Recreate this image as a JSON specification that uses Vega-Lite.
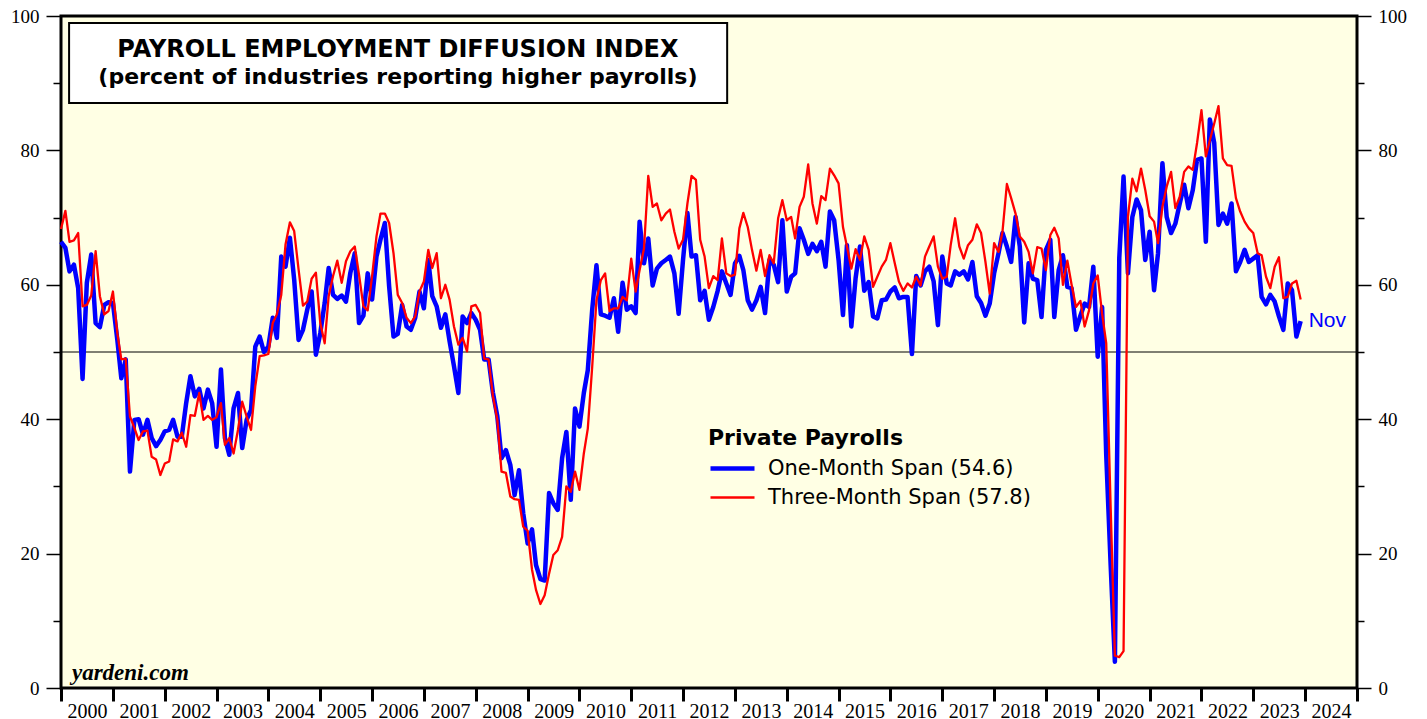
{
"$schema":"https://vega.github.io/schema/vega-lite/v6.json",
"autosize":{"type":"none"},
"width":1296,"height":672,
"padding":{"left":61,"top":16,"right":70,"bottom":31},
"background":"white",
"config":{"view":{"fill":"#FFFFE4","stroke":"black","strokeWidth":3},"axis":{"domain":false,"grid":false}},
"datasets":{
"payrolls":[
{"date":"2000-01-01","one":66.4,"three":68.3},{"date":"2000-02-01","one":65.5,"three":71},{"date":"2000-03-01","one":62,"three":66.4},{"date":"2000-04-01","one":63,"three":66.6},{"date":"2000-05-01","one":59.5,"three":67.7},{"date":"2000-06-01","one":46,"three":56.8},{"date":"2000-07-01","one":60.3,"three":57},{"date":"2000-08-01","one":64.5,"three":58.4},{"date":"2000-09-01","one":54.3,"three":65},{"date":"2000-10-01","one":53.7,"three":58.3},{"date":"2000-11-01","one":57,"three":55.6},{"date":"2000-12-01","one":57.4,"three":56.1},
{"date":"2001-01-01","one":57.3,"three":59},{"date":"2001-02-01","one":51.8,"three":52.8},{"date":"2001-03-01","one":46.1,"three":48.9},{"date":"2001-04-01","one":48.9,"three":49},{"date":"2001-05-01","one":32.2,"three":40.4},{"date":"2001-06-01","one":39.9,"three":38.7},{"date":"2001-07-01","one":40,"three":36.9},{"date":"2001-08-01","one":37.7,"three":38.2},{"date":"2001-09-01","one":39.9,"three":38.3},{"date":"2001-10-01","one":37.2,"three":34.4},{"date":"2001-11-01","one":36,"three":34},{"date":"2001-12-01","one":36.9,"three":31.7},
{"date":"2002-01-01","one":38.2,"three":33.4},{"date":"2002-02-01","one":38.4,"three":33.7},{"date":"2002-03-01","one":39.9,"three":37},{"date":"2002-04-01","one":37.4,"three":36.7},{"date":"2002-05-01","one":37.4,"three":38},{"date":"2002-06-01","one":42.4,"three":35.9},{"date":"2002-07-01","one":46.4,"three":40.6},{"date":"2002-08-01","one":43.4,"three":40.5},{"date":"2002-09-01","one":44.5,"three":43.9},{"date":"2002-10-01","one":41.6,"three":39.9},{"date":"2002-11-01","one":44.4,"three":40.5},{"date":"2002-12-01","one":42.4,"three":39.9},
{"date":"2003-01-01","one":35.9,"three":40.3},{"date":"2003-02-01","one":47.4,"three":42.4},{"date":"2003-03-01","one":37.2,"three":36.2},{"date":"2003-04-01","one":34.7,"three":37.2},{"date":"2003-05-01","one":41.6,"three":34.9},{"date":"2003-06-01","one":43.9,"three":38.4},{"date":"2003-07-01","one":35.7,"three":42.6},{"date":"2003-08-01","one":39.9,"three":40.4},{"date":"2003-09-01","one":41.4,"three":38.4},{"date":"2003-10-01","one":50.8,"three":44.9},{"date":"2003-11-01","one":52.3,"three":49.4},{"date":"2003-12-01","one":50,"three":49.5},
{"date":"2004-01-01","one":50.8,"three":49.7},{"date":"2004-02-01","one":55.1,"three":54.3},{"date":"2004-03-01","one":52.1,"three":55.6},{"date":"2004-04-01","one":64.2,"three":58.5},{"date":"2004-05-01","one":62.7,"three":66},{"date":"2004-06-01","one":67,"three":69.3},{"date":"2004-07-01","one":60.8,"three":68},{"date":"2004-08-01","one":51.8,"three":62.3},{"date":"2004-09-01","one":53.3,"three":56.9},{"date":"2004-10-01","one":56.3,"three":57.5},{"date":"2004-11-01","one":59,"three":60.9},{"date":"2004-12-01","one":49.6,"three":61.8},
{"date":"2005-01-01","one":52.8,"three":54.3},{"date":"2005-02-01","one":57.3,"three":51.3},{"date":"2005-03-01","one":62.5,"three":58.3},{"date":"2005-04-01","one":58.5,"three":61.3},{"date":"2005-05-01","one":57.9,"three":63.6},{"date":"2005-06-01","one":58.4,"three":60.3},{"date":"2005-07-01","one":57.5,"three":63.5},{"date":"2005-08-01","one":61.8,"three":65},{"date":"2005-09-01","one":64.7,"three":65.7},{"date":"2005-10-01","one":54.3,"three":61.5},{"date":"2005-11-01","one":55.4,"three":56.8},{"date":"2005-12-01","one":61.7,"three":56.2},
{"date":"2006-01-01","one":57.8,"three":61.3},{"date":"2006-02-01","one":64.2,"three":67.2},{"date":"2006-03-01","one":66.7,"three":70.6},{"date":"2006-04-01","one":69.2,"three":70.6},{"date":"2006-05-01","one":59.8,"three":69.2},{"date":"2006-06-01","one":52.3,"three":64.7},{"date":"2006-07-01","one":52.7,"three":58.5},{"date":"2006-08-01","one":57,"three":57.3},{"date":"2006-09-01","one":53.8,"three":55.1},{"date":"2006-10-01","one":53.3,"three":54.3},{"date":"2006-11-01","one":55.1,"three":55.3},{"date":"2006-12-01","one":59,"three":59},
{"date":"2007-01-01","one":56.5,"three":60.5},{"date":"2007-02-01","one":63.7,"three":65.2},{"date":"2007-03-01","one":58.3,"three":62.5},{"date":"2007-04-01","one":56.8,"three":64.7},{"date":"2007-05-01","one":53.6,"three":58},{"date":"2007-06-01","one":55.6,"three":60},{"date":"2007-07-01","one":51.6,"three":57.8},{"date":"2007-08-01","one":47.9,"three":53.8},{"date":"2007-09-01","one":43.9,"three":51.1},{"date":"2007-10-01","one":55.3,"three":52.1},{"date":"2007-11-01","one":54.3,"three":50.1},{"date":"2007-12-01","one":55.8,"three":56.8},
{"date":"2008-01-01","one":54.8,"three":57},{"date":"2008-02-01","one":53.3,"three":55.8},{"date":"2008-03-01","one":48.9,"three":49},{"date":"2008-04-01","one":48.9,"three":48.9},{"date":"2008-05-01","one":44,"three":43.5},{"date":"2008-06-01","one":40.5,"three":40},{"date":"2008-07-01","one":34.2,"three":32.2},{"date":"2008-08-01","one":35.4,"three":32},{"date":"2008-09-01","one":33.2,"three":28.5},{"date":"2008-10-01","one":28.7,"three":28.1},{"date":"2008-11-01","one":32.4,"three":28},{"date":"2008-12-01","one":26,"three":24},
{"date":"2009-01-01","one":21.5,"three":23.4},{"date":"2009-02-01","one":23.6,"three":17.6},{"date":"2009-03-01","one":18.3,"three":14.6},{"date":"2009-04-01","one":16.2,"three":12.5},{"date":"2009-05-01","one":16,"three":13.8},{"date":"2009-06-01","one":29,"three":17},{"date":"2009-07-01","one":27.5,"three":19.8},{"date":"2009-08-01","one":26.5,"three":20.5},{"date":"2009-09-01","one":34.2,"three":22.5},{"date":"2009-10-01","one":38.1,"three":30},{"date":"2009-11-01","one":28,"three":29.2},{"date":"2009-12-01","one":41.6,"three":32.2},
{"date":"2010-01-01","one":38.9,"three":29.5},{"date":"2010-02-01","one":43.9,"three":34.9},{"date":"2010-03-01","one":47.3,"three":38.6},{"date":"2010-04-01","one":56.3,"three":47.8},{"date":"2010-05-01","one":62.9,"three":57.7},{"date":"2010-06-01","one":55.6,"three":60.7},{"date":"2010-07-01","one":55.4,"three":61.7},{"date":"2010-08-01","one":55.1,"three":56.1},{"date":"2010-09-01","one":58,"three":56.5},{"date":"2010-10-01","one":53,"three":56.5},{"date":"2010-11-01","one":60.3,"three":58.2},{"date":"2010-12-01","one":56.3,"three":57.7},
{"date":"2011-01-01","one":56.8,"three":63.9},{"date":"2011-02-01","one":55.8,"three":59},{"date":"2011-03-01","one":69.4,"three":62.2},{"date":"2011-04-01","one":63.2,"three":65.4},{"date":"2011-05-01","one":66.9,"three":76.2},{"date":"2011-06-01","one":59.9,"three":71.6},{"date":"2011-07-01","one":62.4,"three":72.1},{"date":"2011-08-01","one":63.2,"three":69.6},{"date":"2011-09-01","one":63.7,"three":70.6},{"date":"2011-10-01","one":64.2,"three":71.2},{"date":"2011-11-01","one":61.7,"three":67.9},{"date":"2011-12-01","one":55.7,"three":65.4},
{"date":"2012-01-01","one":63.7,"three":66.7},{"date":"2012-02-01","one":70.7,"three":72.1},{"date":"2012-03-01","one":64.2,"three":76.2},{"date":"2012-04-01","one":64.4,"three":75.6},{"date":"2012-05-01","one":57.7,"three":66.7},{"date":"2012-06-01","one":59.1,"three":64.2},{"date":"2012-07-01","one":54.8,"three":59.5},{"date":"2012-08-01","one":56.7,"three":61.3},{"date":"2012-09-01","one":59.1,"three":60.7},{"date":"2012-10-01","one":62,"three":66.9},{"date":"2012-11-01","one":60.2,"three":61.7},{"date":"2012-12-01","one":58.5,"three":61.3},
{"date":"2013-01-01","one":63.2,"three":61.5},{"date":"2013-02-01","one":64.3,"three":68.4},{"date":"2013-03-01","one":62.2,"three":70.7},{"date":"2013-04-01","one":57.7,"three":68.6},{"date":"2013-05-01","one":56.3,"three":65.2},{"date":"2013-06-01","one":57.7,"three":62.1},{"date":"2013-07-01","one":59.7,"three":65.2},{"date":"2013-08-01","one":55.8,"three":61.3},{"date":"2013-09-01","one":63.7,"three":64.4},{"date":"2013-10-01","one":63,"three":63.2},{"date":"2013-11-01","one":60.4,"three":69.9},{"date":"2013-12-01","one":69.6,"three":72.6},
{"date":"2014-01-01","one":59,"three":69.6},{"date":"2014-02-01","one":61.2,"three":70.1},{"date":"2014-03-01","one":61.7,"three":66.9},{"date":"2014-04-01","one":68.4,"three":71.6},{"date":"2014-05-01","one":66.7,"three":73.1},{"date":"2014-06-01","one":64.6,"three":77.9},{"date":"2014-07-01","one":66.1,"three":72.1},{"date":"2014-08-01","one":65,"three":69.1},{"date":"2014-09-01","one":66.4,"three":73.2},{"date":"2014-10-01","one":62.7,"three":72.6},{"date":"2014-11-01","one":70.9,"three":77.3},{"date":"2014-12-01","one":69.6,"three":76.3},
{"date":"2015-01-01","one":63.7,"three":75.1},{"date":"2015-02-01","one":55.5,"three":68.6},{"date":"2015-03-01","one":65.9,"three":65.7},{"date":"2015-04-01","one":53.8,"three":62.4},{"date":"2015-05-01","one":61,"three":65.3},{"date":"2015-06-01","one":65.7,"three":63.7},{"date":"2015-07-01","one":59.1,"three":67.2},{"date":"2015-08-01","one":60.4,"three":65.2},{"date":"2015-09-01","one":55.3,"three":59.7},{"date":"2015-10-01","one":55,"three":61.2},{"date":"2015-11-01","one":57.7,"three":62.7},{"date":"2015-12-01","one":57.8,"three":63.7},
{"date":"2016-01-01","one":59,"three":66.2},{"date":"2016-02-01","one":59.6,"three":63.2},{"date":"2016-03-01","one":58,"three":60.5},{"date":"2016-04-01","one":58.2,"three":59.1},{"date":"2016-05-01","one":58.2,"three":60.2},{"date":"2016-06-01","one":49.7,"three":59.6},{"date":"2016-07-01","one":61.3,"three":61.2},{"date":"2016-08-01","one":59.9,"three":59.9},{"date":"2016-09-01","one":62,"three":64.2},{"date":"2016-10-01","one":62.7,"three":65.7},{"date":"2016-11-01","one":60.5,"three":67.2},{"date":"2016-12-01","one":54,"three":62.7},
{"date":"2017-01-01","one":64.2,"three":60.9},{"date":"2017-02-01","one":60.2,"three":61.2},{"date":"2017-03-01","one":59.9,"three":65.9},{"date":"2017-04-01","one":62,"three":69.9},{"date":"2017-05-01","one":61.5,"three":65.7},{"date":"2017-06-01","one":62,"three":63.9},{"date":"2017-07-01","one":60.8,"three":65.9},{"date":"2017-08-01","one":63.4,"three":66.7},{"date":"2017-09-01","one":58.3,"three":69},{"date":"2017-10-01","one":57.3,"three":67.7},{"date":"2017-11-01","one":55.4,"three":63.4},{"date":"2017-12-01","one":57.2,"three":58.7},
{"date":"2018-01-01","one":61.7,"three":66.2},{"date":"2018-02-01","one":64.7,"three":64.9},{"date":"2018-03-01","one":67.7,"three":67.9},{"date":"2018-04-01","one":65.7,"three":75},{"date":"2018-05-01","one":63.4,"three":72.9},{"date":"2018-06-01","one":70.1,"three":70.6},{"date":"2018-07-01","one":65.7,"three":67.2},{"date":"2018-08-01","one":54.4,"three":66.4},{"date":"2018-09-01","one":63.2,"three":64.9},{"date":"2018-10-01","one":60.9,"three":61.7},{"date":"2018-11-01","one":60.7,"three":65.6},{"date":"2018-12-01","one":55.2,"three":65.4},
{"date":"2019-01-01","one":65.2,"three":62.2},{"date":"2019-02-01","one":66.7,"three":67.4},{"date":"2019-03-01","one":55.2,"three":68.5},{"date":"2019-04-01","one":62.2,"three":66.9},{"date":"2019-05-01","one":64.4,"three":60},{"date":"2019-06-01","one":59.7,"three":63.6},{"date":"2019-07-01","one":59.5,"three":60},{"date":"2019-08-01","one":53.3,"three":56.7},{"date":"2019-09-01","one":55.4,"three":57.6},{"date":"2019-10-01","one":57.2,"three":53.8},{"date":"2019-11-01","one":56.7,"three":56.2},{"date":"2019-12-01","one":62.7,"three":60.2},
{"date":"2020-01-01","one":49.3,"three":61.4},{"date":"2020-02-01","one":56.7,"three":55.7},{"date":"2020-03-01","one":34.7,"three":51.3},{"date":"2020-04-01","one":18.4,"three":27},{"date":"2020-05-01","one":3.9,"three":4.8},{"date":"2020-06-01","one":64,"three":4.6},{"date":"2020-07-01","one":76.1,"three":5.5},{"date":"2020-08-01","one":61.7,"three":70.1},{"date":"2020-09-01","one":70.1,"three":75.8},{"date":"2020-10-01","one":72.7,"three":73.9},{"date":"2020-11-01","one":71.1,"three":77.3},{"date":"2020-12-01","one":63.7,"three":74.1},
{"date":"2021-01-01","one":67.9,"three":70.2},{"date":"2021-02-01","one":59.2,"three":69.4},{"date":"2021-03-01","one":64.7,"three":66.2},{"date":"2021-04-01","one":78.1,"three":71.6},{"date":"2021-05-01","one":70.1,"three":74.6},{"date":"2021-06-01","one":67.7,"three":76.8},{"date":"2021-07-01","one":69.1,"three":71.4},{"date":"2021-08-01","one":72.1,"three":73.1},{"date":"2021-09-01","one":74.9,"three":76.8},{"date":"2021-10-01","one":71.4,"three":77.6},{"date":"2021-11-01","one":74.1,"three":77.1},{"date":"2021-12-01","one":78.6,"three":81.1},
{"date":"2022-01-01","one":78.8,"three":86},{"date":"2022-02-01","one":66.4,"three":79.1},{"date":"2022-03-01","one":84.6,"three":81.5},{"date":"2022-04-01","one":81.1,"three":84},{"date":"2022-05-01","one":68.9,"three":86.6},{"date":"2022-06-01","one":70.6,"three":78.8},{"date":"2022-07-01","one":69.1,"three":77.8},{"date":"2022-08-01","one":72.1,"three":77.7},{"date":"2022-09-01","one":62,"three":72.9},{"date":"2022-10-01","one":63.4,"three":70.9},{"date":"2022-11-01","one":65.2,"three":69.4},{"date":"2022-12-01","one":63.4,"three":68.4},
{"date":"2023-01-01","one":63.9,"three":67.7},{"date":"2023-02-01","one":64.4,"three":64.7},{"date":"2023-03-01","one":58.2,"three":64.4},{"date":"2023-04-01","one":57.1,"three":61.2},{"date":"2023-05-01","one":58.5,"three":59.5},{"date":"2023-06-01","one":57.5,"three":62.7},{"date":"2023-07-01","one":55.3,"three":64.1},{"date":"2023-08-01","one":53.3,"three":58},{"date":"2023-09-01","one":60.2,"three":58.2},{"date":"2023-10-01","one":59.2,"three":60.2},{"date":"2023-11-01","one":52.3,"three":60.6},{"date":"2023-12-01","one":54.6,"three":57.8}
],
"ref":[{"level":50}],
"box":[{"start":"2000-02-27","end":"2012-11-07","low":87.05,"high":98.96}],
"titleMain":[{"date":"2006-07-02","value":95.0,"text":"PAYROLL EMPLOYMENT DIFFUSION INDEX"}],
"titleSub":[{"date":"2006-07-02","value":90.9,"text":"(percent of industries reporting higher payrolls)"}],
"endLabel":[{"date":"2023-12-01","value":54.6,"text":"Nov"}],
"credit":[{"date":"2000-03-18","value":1.2,"text":"yardeni.com"}]
},
"layer":[
{"data":{"name":"ref"},"mark":{"type":"rule","color":"black","strokeWidth":1},
 "encoding":{"y":{"field":"level","type":"quantitative","scale":{"domain":[0,100],"nice":false},
  "axis":{"orient":"right","values":[0,10,20,30,40,50,60,70,80,90,100],"labelExpr":"datum.value % 20 == 0 ? datum.label : ''","tickSize":{"condition":{"test":"datum.value % 20 == 0","value":14},"value":7},"tickWidth":1.5,"tickColor":"black","labelFont":"Liberation Serif","labelFontSize":19,"labelColor":"black","labelPadding":7,"title":null,"domain":false,"grid":false}}}},
{"data":{"name":"payrolls"},"transform":[{"fold":["one","three"],"as":["series","value"]}],
 "mark":{"type":"line","strokeJoin":"round"},
 "encoding":{
  "x":{"field":"date","type":"temporal","scale":{"type":"utc","domain":[{"year":2000,"month":1,"date":1,"utc":true},{"year":2025,"month":1,"date":1,"utc":true}],"nice":false},
   "axis":{"orient":"bottom","values":[{"year":2000,"month":1,"date":1,"utc":true},{"year":2001,"month":1,"date":1,"utc":true},{"year":2002,"month":1,"date":1,"utc":true},{"year":2003,"month":1,"date":1,"utc":true},{"year":2004,"month":1,"date":1,"utc":true},{"year":2005,"month":1,"date":1,"utc":true},{"year":2006,"month":1,"date":1,"utc":true},{"year":2007,"month":1,"date":1,"utc":true},{"year":2008,"month":1,"date":1,"utc":true},{"year":2009,"month":1,"date":1,"utc":true},{"year":2010,"month":1,"date":1,"utc":true},{"year":2011,"month":1,"date":1,"utc":true},{"year":2012,"month":1,"date":1,"utc":true},{"year":2013,"month":1,"date":1,"utc":true},{"year":2014,"month":1,"date":1,"utc":true},{"year":2015,"month":1,"date":1,"utc":true},{"year":2016,"month":1,"date":1,"utc":true},{"year":2017,"month":1,"date":1,"utc":true},{"year":2018,"month":1,"date":1,"utc":true},{"year":2019,"month":1,"date":1,"utc":true},{"year":2020,"month":1,"date":1,"utc":true},{"year":2021,"month":1,"date":1,"utc":true},{"year":2022,"month":1,"date":1,"utc":true},{"year":2023,"month":1,"date":1,"utc":true},{"year":2024,"month":1,"date":1,"utc":true},{"year":2025,"month":1,"date":1,"utc":true}],
   "labelExpr":"utcyear(datum.value) >= 2025 ? '' : utcFormat(datum.value, '%Y')","labelAlign":"center","labelOffset":26,"labelBaseline":"top","labelPadding":0,"labelFlush":false,"labelOverlap":false,"tickSize":13,"tickWidth":3,"tickColor":"black","labelFont":"Liberation Serif","labelFontSize":20,"labelColor":"black","title":null,"domain":false,"grid":false}},
  "y":{"field":"value","type":"quantitative","scale":{"domain":[0,100],"nice":false},
   "axis":{"orient":"left","values":[0,10,20,30,40,50,60,70,80,90,100],"labelExpr":"datum.value % 20 == 0 ? datum.label : ''","tickSize":{"condition":{"test":"datum.value % 20 == 0","value":15},"value":8},"tickWidth":1.5,"tickColor":"black","labelFont":"Liberation Serif","labelFontSize":19,"labelColor":"black","labelPadding":7,"title":null,"domain":false,"grid":false}},
  "color":{"field":"series","type":"nominal","scale":{"domain":["one","three"],"range":["#0000FF","#FF0000"]},
   "legend":{"orient":"none","legendX":647,"legendY":412,"title":"Private Payrolls","titleLimit":600,"titleFont":"DejaVu Sans","titleFontSize":22,"titleFontWeight":"bold","titleColor":"black","titlePadding":8,"labelFont":"DejaVu Sans","labelFontSize":21,"labelColor":"black","labelLimit":600,"symbolType":"stroke","symbolSize":1936,"labelOffset":11,"rowPadding":7,"clipHeight":21,"labelExpr":"datum.label == 'one' ? 'One-Month Span (54.6)' : 'Three-Month Span (57.8)'"}},
  "strokeWidth":{"field":"series","type":"nominal","scale":{"domain":["one","three"],"range":[4.5,2.3]}}
 }},
{"data":{"name":"box"},"mark":{"type":"rect","fill":"white","stroke":"black","strokeWidth":2},
 "encoding":{"x":{"field":"start","type":"temporal"},"x2":{"field":"end"},"y":{"field":"low","type":"quantitative","axis":null},"y2":{"field":"high"}}},
{"data":{"name":"titleMain"},"mark":{"type":"text","font":"DejaVu Sans","fontSize":24,"fontWeight":"bold","color":"black","align":"center","baseline":"middle"},
 "encoding":{"x":{"field":"date","type":"temporal"},"y":{"field":"value","type":"quantitative","axis":null},"text":{"field":"text"}}},
{"data":{"name":"titleSub"},"mark":{"type":"text","font":"DejaVu Sans","fontSize":22,"fontWeight":"bold","color":"black","align":"center","baseline":"middle"},
 "encoding":{"x":{"field":"date","type":"temporal"},"y":{"field":"value","type":"quantitative","axis":null},"text":{"field":"text"}}},
{"data":{"name":"endLabel"},"mark":{"type":"text","font":"Liberation Sans","fontSize":21,"color":"#0000FF","align":"left","baseline":"middle","dx":8},
 "encoding":{"x":{"field":"date","type":"temporal"},"y":{"field":"value","type":"quantitative","axis":null},"text":{"field":"text"}}},
{"data":{"name":"credit"},"mark":{"type":"text","font":"Liberation Serif","fontSize":23,"fontWeight":"bold","fontStyle":"italic","color":"black","align":"left","baseline":"alphabetic"},
 "encoding":{"x":{"field":"date","type":"temporal"},"y":{"field":"value","type":"quantitative","axis":null},"text":{"field":"text"}}}
],
"resolve":{"axis":{"y":"independent"}}
}
